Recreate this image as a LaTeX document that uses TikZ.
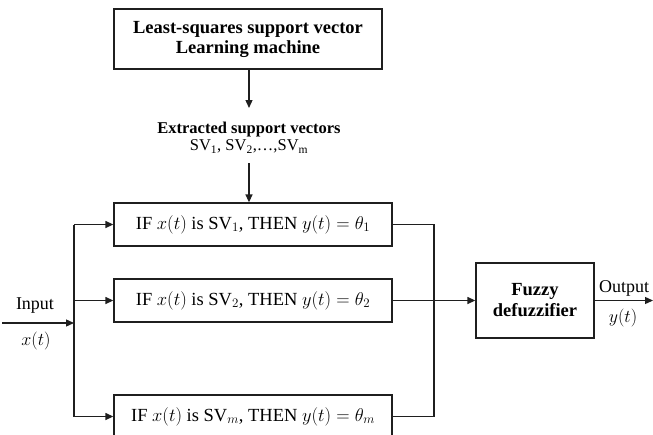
\RequirePackage{fix-cm}
\documentclass[tikz,border=0pt]{standalone}
\usepackage{fontspec}
\setmainfont{Liberation Serif}
\usetikzlibrary{arrows.meta,calc}
\begin{document}
\begin{tikzpicture}[x=1pt,y=-1pt,
  conn/.style={line width=1.3pt,draw=black!88},
  arr/.style={conn,-{Triangle[length=8pt,width=7pt]}},
  boxed/.style={draw=black!88,line width=1.3pt,rectangle,inner sep=0pt,align=center},
  lbl/.style={inner sep=0pt,align=center,font=\fontsize{18}{20}\selectfont}]
\useasboundingbox (0,0) rectangle (653,434);
% top box
\node[boxed,minimum width=268pt,minimum height=60pt,font=\fontsize{18.5}{20}\selectfont\bfseries] (lssvm) at (248,39)
  {Least-squares support vector\\Learning machine};
\coordinate (a1) at (249,108);
\draw[arr] (lssvm.south -| a1) -- (a1);
\node[lbl,font=\fontsize{16.5}{17}\selectfont] (ext) at (249,138) {\textbf{Extracted support vectors}\\SV\textsubscript{1}, SV\textsubscript{2},\ldots,SV\textsubscript{m}};
\coordinate (a2) at (249,163);
% rule boxes
\node[boxed,minimum width=278pt,minimum height=43pt,font=\fontsize{18.5}{20}\selectfont] (r1) at (253,224.5)
  {IF $x(t)$ is SV$_1$, THEN $y(t)=\theta_1$};
\node[boxed,minimum width=278pt,minimum height=43pt,font=\fontsize{18.5}{20}\selectfont] (r2) at (253,300.5)
  {IF $x(t)$ is SV$_2$, THEN $y(t)=\theta_2$};
\node[boxed,minimum width=278pt,minimum height=43pt,font=\fontsize{18.5}{20}\selectfont] (rm) at (253,416.5)
  {IF $x(t)$ is SV$_m$, THEN $y(t)=\theta_m$};
\draw[arr] (a2) -- (r1.north -| a2);
% input
\coordinate (bus) at (74,323);
\coordinate (inp) at (2,323);
\draw[arr] (inp) -- (bus);
\node[lbl] (inlbl) at (35,306) {Input};
\node[lbl] (xlbl) at (36,341) {$x(t)$};
\draw[conn] (bus |- r1.west) -- (bus |- rm.west);
\draw[arr] (bus |- r1.west) -- (r1.west);
\draw[arr] (bus |- r2.west) -- (r2.west);
\draw[arr] (bus |- rm.west) -- (rm.west);
% right collector
\coordinate (col) at (434,300);
\draw[conn] (r1.east) -- (col |- r1.east) -- (col |- rm.east) -- (rm.east);
% fuzzy
\node[boxed,minimum width=118pt,minimum height=75pt,font=\fontsize{18.5}{21}\selectfont\bfseries] (fz) at (535,300.5)
  {Fuzzy\\defuzzifier};
\draw[arr] (r2.east) -- (fz.west);
\coordinate (outp) at (653,300.5);
\draw[arr] (fz.east) -- (outp);
\node[lbl] (outlbl) at (624,288) {Output};
\node[lbl] (ylbl) at (623,318) {$y(t)$};
\end{tikzpicture}
\end{document}
